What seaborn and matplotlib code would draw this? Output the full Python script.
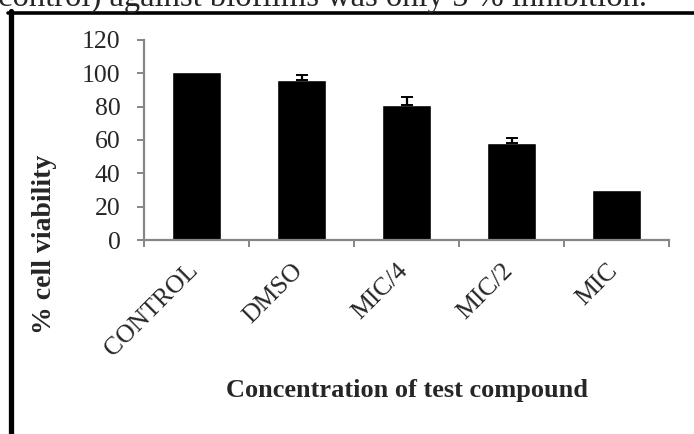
"""
Gráfico de barras: viabilidade celular por concentração do composto.
"""

import numpy as np
import matplotlib
matplotlib.use('Agg')
import matplotlib.pyplot as plt
import matplotlib.transforms as mtransforms
from matplotlib.lines import Line2D
import seaborn as sns

# Dados
categorias = ['CONTROL', 'DMSO', 'MIC/4', 'MIC/2', 'MIC']
viabilidade = [101, 96, 81, 58.5, 30]
desvio = [0, 3, 5, 2.8, 0]

ticks_y = [0, 20, 40, 60, 80, 100, 120]

texto_topo = 'control) against biofilms was only 5 % inhibition.'

# Estilo
sns.set_style('white')
plt.rcParams['font.family'] = ['Liberation Serif', 'DejaVu Serif']
cinza = '#868686'

fig = plt.figure(figsize=(6.94, 4.34), dpi=100)
ax = fig.add_axes([144 / 694, 1 - 240 / 434, 525 / 694, 200 / 434])

sns.barplot(x=categorias, y=viabilidade, color='black', width=0.46,
            saturation=1, errorbar=None, ax=ax)

# Barras de erro (apenas para cima)
pos = np.arange(len(categorias))
sd = np.array(desvio)
mask = sd > 0
ax.errorbar(pos[mask], np.array(viabilidade)[mask],
            yerr=[np.zeros(mask.sum()), sd[mask]],
            fmt='none', ecolor='black', elinewidth=1.6,
            capsize=4, capthick=1.4)

# Eixos
ax.set_ylim(0, 120)
ax.set_yticks(ticks_y)
ax.set_xlim(-0.5, len(categorias) - 0.5)
ax.set_xticks(np.arange(-0.5, len(categorias), 1), minor=True)

for lado in ['top', 'right']:
    ax.spines[lado].set_visible(False)
for lado in ['left', 'bottom']:
    ax.spines[lado].set_color(cinza)
    ax.spines[lado].set_linewidth(1.6)

ax.tick_params(axis='y', which='major', direction='out', length=5,
               width=1.4, color=cinza, labelsize=18.5, pad=12, left=True)
ax.tick_params(axis='x', which='major', length=0, labelsize=18.5, pad=14)
ax.tick_params(axis='x', which='minor', direction='out', length=5,
               width=1.4, color=cinza, bottom=True)

desloc = mtransforms.ScaledTranslation(0.06, 0, fig.dpi_scale_trans)
for rotulo in ax.get_xticklabels():
    rotulo.set_rotation(45)
    rotulo.set_ha('right')
    rotulo.set_va('top')
    rotulo.set_transform(rotulo.get_transform() + desloc)

ax.set_xlabel('Concentration of test compound', fontsize=19,
              fontweight='bold', va='center')
ax.xaxis.set_label_coords(0.5, -0.75)
ax.set_ylabel('% cell viability', fontsize=20, fontweight='bold')
ax.yaxis.set_label_coords(-0.165, -0.02)

# Moldura da página e texto cortado no topo
fig.add_artist(Line2D([8 / 694, 1.0], [1 - 12.5 / 434, 1 - 12.5 / 434],
                      transform=fig.transFigure, color='black', lw=2.6))
fig.add_artist(Line2D([11 / 694, 11 / 694], [0, 1 - 11 / 434],
                      transform=fig.transFigure, color='black', lw=3.8))
fig.text(-2 / 694, 1 - 6 / 434, texto_topo, fontsize=23.5,
         va='baseline', ha='left')

fig.savefig('out.png', dpi=100)
plt.close(fig)
